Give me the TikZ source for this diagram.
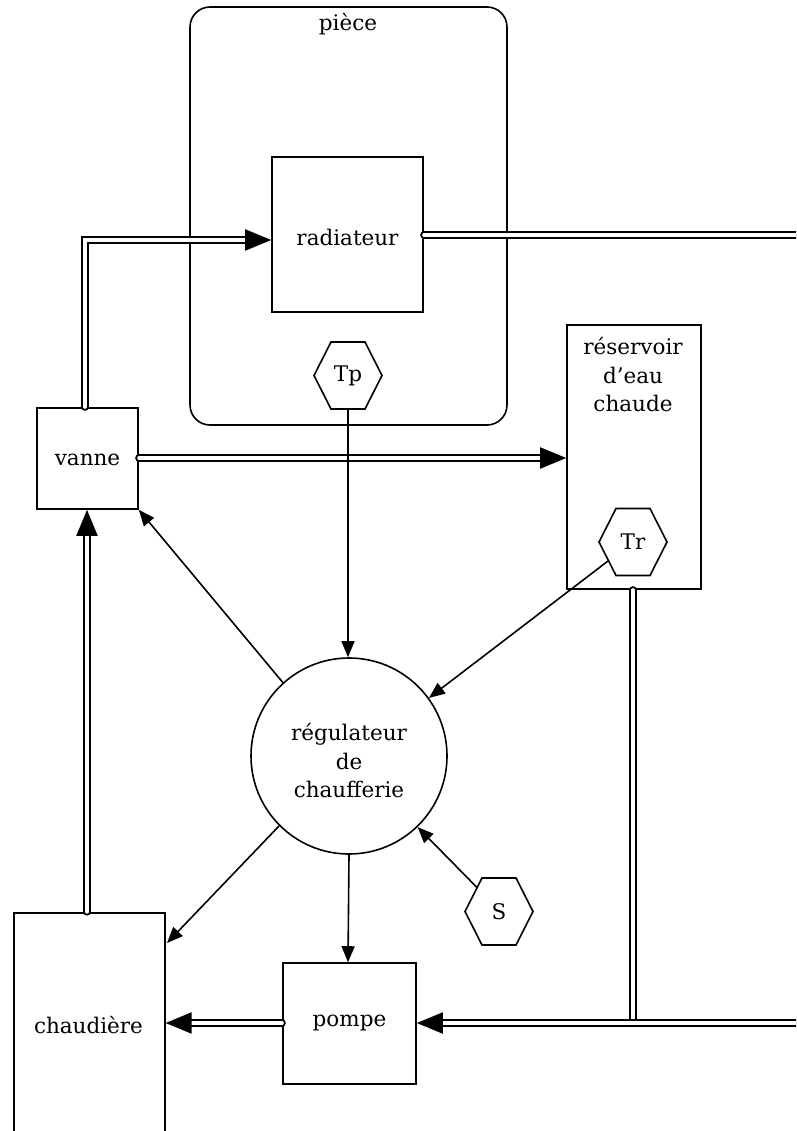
\documentclass[tikz,border=0pt]{standalone}
\usepackage{fontspec}
\setmainfont{DejaVu Serif}
\usetikzlibrary{arrows.meta,calc}
\begin{document}
\begin{tikzpicture}[x=1pt,y=-1pt,
  lbl/.style={font=\fontsize{21.5}{28.5}\selectfont, align=center, inner sep=0pt},
  box/.style={draw, line width=1.6pt, inner sep=0pt},
  pipe/.style={draw=black, double=white, line width=2pt, double distance=3.2pt, line cap=round},
  pipearrow/.style={pipe, -{Triangle[length=26pt,width=21pt]}},
  sig/.style={line width=1.6pt, -{Triangle[length=16pt,width=13pt]}},
  hexa/.style={line width=1.6pt, line join=miter}]
\useasboundingbox (0,0) rectangle (796,1131);
\clip (0,0) rectangle (796,1131);
\newcommand{\hexaround}[1]{\draw[hexa] ($(#1)+(-34,0)$) -- ++(17,-33.5) -- ++(34,0) -- ++(17,33.5) -- ++(-17,33.5) -- ++(-34,0) -- cycle;}

% boxes
\node[box, rounded corners=20pt, minimum width=317pt, minimum height=418pt] (piece) at (348.5,216) {};
\node[lbl] (piecelbl) at (348,24) {pièce};
\node[box, minimum width=151pt, minimum height=155pt] (rad) at (347.5,234.5) {};
\node[lbl] (radlbl) at (347.5,237) {radiateur};
\node[box, minimum width=101pt, minimum height=101pt] (vanne) at (87.5,458.5) {};
\node[lbl] (vannelbl) at (87.5,460) {vanne};
\node[box, minimum width=134pt, minimum height=264pt] (res) at (634,457) {};
\node[lbl] (reslbl) at (633,375) {réservoir\\d’eau\\chaude};
\node[box, circle, minimum size=196pt] (reg) at (349,756) {};
\node[lbl] (reglbl) at (349,761) {régulateur\\de\\chaufferie};
\node[box, minimum width=151pt, minimum height=260pt, anchor=north west] (chaud) at (13,912) {};
\node[lbl] (chaudlbl) at (88.5,1025) {chaudière};
\node[box, minimum width=133pt, minimum height=121pt] (pompe) at (349.5,1023.5) {};
\node[lbl] (pompelbl) at (349.5,1023) {pompe};

% hexagons
\node[lbl] (Tp) at (348,375.5) {Tp};
\hexaround{Tp}
\node[lbl] (Tr) at (633,542) {Tr};
\hexaround{Tr}
\node[lbl] (S) at (499,911.5) {S};
\hexaround{S}

% pipes
\coordinate (eR) at (800,235);
\coordinate (eP) at (800,1023);
\draw[pipearrow] (vanne.north -| 85,0) |- (rad.west |- 0,240);
\draw[pipe] (rad.east |- 0,235) -- (eR);
\draw[pipearrow] (vanne.east |- 0,458) -- (res.west |- 0,458);
\draw[pipe] (res.south -| 633,0) -- (633,1023);
\draw[pipearrow] (eP) -- (pompe.east |- 0,1023);
\draw[pipearrow] (pompe.west |- 0,1023) -- (chaud.east |- 0,1023);
\draw[pipearrow] (chaud.north -| 87,0) -- (vanne.south -| 87,0);

% signals
\draw[sig] ($(Tp)+(0,33.5)$) -- (reg.north -| 348,0);
\draw[sig] (608,561) -- (reg.36.6);
\draw[sig] (reg.132.7) -- (vanne.south east);
\draw[sig] (reg.225.6) -- (167,943);
\draw[sig] (reg.270) -- (pompe.north -| 348,0);
\draw[sig] ($(S)+(-22,-24)$) -- (reg.-46);
\end{tikzpicture}
\end{document}
